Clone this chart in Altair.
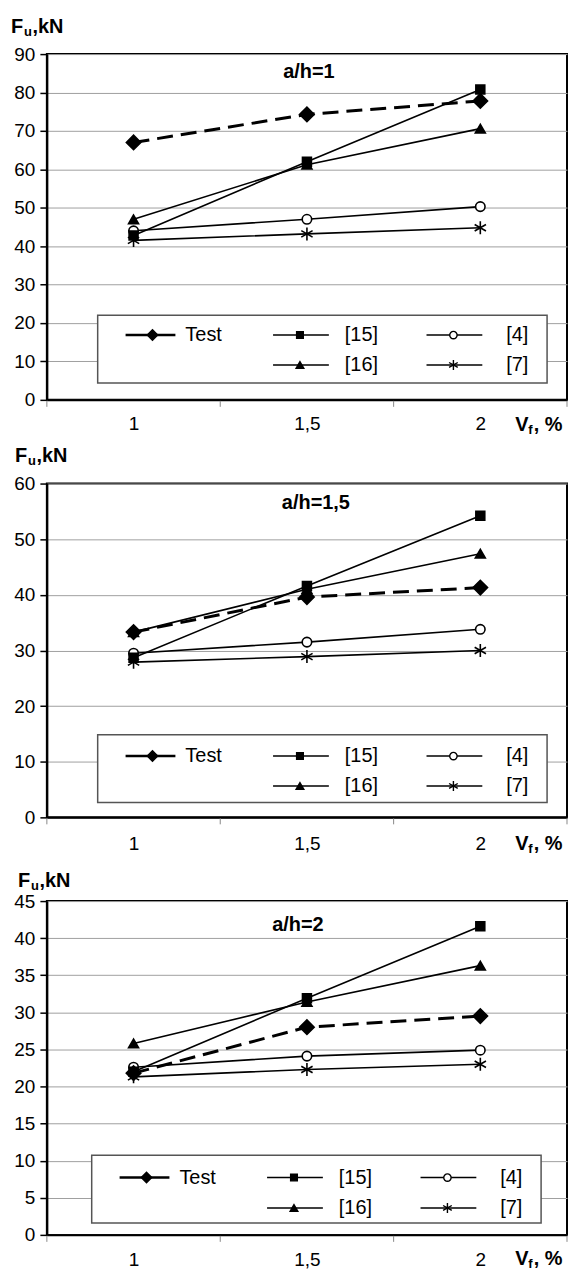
import altair as alt
import pandas as pd

FONT = "Liberation Sans"

# ---------------- data ----------------
VF = [1, 1.5, 2]
BOUNDS = [0.75, 1.25, 1.75, 2.25]
SERIES = ["Test", "[15]", "[16]", "[4]", "[7]"]

# a/h = 1
P1_TEST = [67.0, 74.3, 77.8]
P1_R15 = [42.8, 62.0, 80.8]
P1_R16 = [47.0, 61.2, 70.6]
P1_R4 = [44.0, 47.0, 50.3]
P1_R7 = [41.5, 43.2, 44.8]

# a/h = 1,5
P2_TEST = [33.3, 39.6, 41.3]
P2_R15 = [28.7, 41.6, 54.2]
P2_R16 = [33.3, 41.0, 47.4]
P2_R4 = [29.5, 31.5, 33.8]
P2_R7 = [27.9, 28.9, 30.0]

# a/h = 2
P3_TEST = [21.8, 28.0, 29.5]
P3_R15 = [22.0, 31.9, 41.6]
P3_R16 = [25.8, 31.4, 36.3]
P3_R4 = [22.6, 24.1, 24.9]
P3_R7 = [21.3, 22.3, 23.0]

Y_TICKS_1 = [0, 10, 20, 30, 40, 50, 60, 70, 80, 90]
Y_TICKS_2 = [0, 10, 20, 30, 40, 50, 60]
Y_TICKS_3 = [0, 5, 10, 15, 20, 25, 30, 35, 40, 45]

TITLES = ["a/h=1", "a/h=1,5", "a/h=2"]

# ---------------- styles ----------------
ASTERISK = "M0,-1L0,1M-0.87,-0.5L0.87,0.5M-0.87,0.5L0.87,-0.5"
SHAPES = {"Test": "diamond", "[15]": "square", "[16]": "triangle-up",
          "[4]": "circle", "[7]": ASTERISK}
FILLS = {"Test": "black", "[15]": "black", "[16]": "black",
         "[4]": "white", "[7]": "black"}
SIZES = {"Test": 210, "[15]": 80, "[16]": 100, "[4]": 90, "[7]": 170}
LEG_SIZES = {"Test": 110, "[15]": 45, "[16]": 60, "[4]": 55, "[7]": 100}

PANELS = [
    dict(series=[P1_TEST, P1_R15, P1_R16, P1_R4, P1_R7], yticks=Y_TICKS_1,
         W=522, H=347, title=TITLES[0], tx=263, ty=18,
         fx=-36, fy=-21, xpad=15, vx=470, vy=31,
         lx=51, ly=262, rows=(20, 50)),
    dict(series=[P2_TEST, P2_R15, P2_R16, P2_R4, P2_R7], yticks=Y_TICKS_2,
         W=522, H=335, title=TITLES[1], tx=270, ty=20,
         fx=-32, fy=-22, xpad=17, vx=470, vy=33,
         lx=51, ly=252, rows=(21.5, 51.5)),
    dict(series=[P3_TEST, P3_R15, P3_R16, P3_R4, P3_R7], yticks=Y_TICKS_3,
         W=522, H=335, title=TITLES[2], tx=252, ty=24,
         fx=-29, fy=-14, xpad=16, vx=470, vy=30,
         lx=45, ly=255, rows=(22.5, 53)),
]

# legend layout: (column, row) and offsets inside the box
LEG_POS = {"Test": (0, 0), "[15]": (1, 0), "[4]": (2, 0), "[16]": (1, 1), "[7]": (2, 1)}
LEG_COLS = [(28, 55, 78, 88), (176, 203, 232, 248), (330, 357, 386, 410)]
LEG_W, LEG_H = 451, 68


def txt(text, x, y, size=20, bold=True, align="left", baseline="alphabetic"):
    return alt.Chart(pd.DataFrame({"t": [text]})).mark_text(
        font=FONT, fontSize=size, fontWeight="bold" if bold else "normal",
        align=align, baseline=baseline, color="black"
    ).encode(text="t:N", x=alt.value(x), y=alt.value(y))


def panel(p):
    W, H = p["W"], p["H"]
    rows = []
    for name, vals in zip(SERIES, p["series"]):
        for v, val in zip(VF, vals):
            rows.append({"vf": v, "value": val, "series": name})
    df = pd.DataFrame(rows)
    ymax = p["yticks"][-1]

    xsc = alt.Scale(domain=[BOUNDS[0], BOUNDS[-1]], nice=False, zero=False)
    ysc = alt.Scale(domain=[0, ymax], nice=False)
    xax = alt.Axis(values=VF, format=".1~f", labelExpr="replace(datum.label, '.', ',')",
                   ticks=False, grid=False, domainColor="black", domainWidth=2,
                   labelFont=FONT, labelFontSize=19, labelColor="black",
                   labelPadding=p["xpad"], title=None)
    yax = alt.Axis(values=p["yticks"], grid=True, gridColor="#a0a0a0", gridWidth=1,
                   domainColor="black", domainWidth=2, tickColor="black", tickSize=7,
                   tickWidth=1.5, labelFont=FONT, labelFontSize=19, labelColor="black",
                   labelPadding=5, title=None)
    X = alt.X("vf:Q", scale=xsc, axis=xax)
    Y = alt.Y("value:Q", scale=ysc, axis=yax)

    base = alt.Chart(df)
    layers = []
    for name in SERIES:
        if name == "Test":
            continue
        layers.append(base.transform_filter(alt.datum.series == name)
                      .mark_line(color="black", strokeWidth=1.6)
                      .encode(x=X, y=Y))
    layers.append(base.transform_filter(alt.datum.series == "Test")
                  .mark_line(color="black", strokeWidth=3, strokeDash=[16, 8])
                  .encode(x=X, y=Y))
    for name in ["[7]", "[4]", "[16]", "[15]", "Test"]:
        layers.append(base.transform_filter(alt.datum.series == name)
                      .mark_point(shape=SHAPES[name], size=SIZES[name], fill=FILLS[name],
                                  stroke="black", strokeWidth=1.6, opacity=1, filled=True)
                      .encode(x=X, y=Y))
    layers.append(alt.Chart(pd.DataFrame({"vf": BOUNDS})).mark_rule(color="#888888", strokeWidth=1)
                  .encode(x=X, y=alt.value(H + 1), y2=alt.value(H + 7)))

    layers.append(txt(p["title"], p["tx"], p["ty"], size=20, align="center", baseline="middle"))
    fx, fy = p["fx"], p["fy"]
    layers.append(txt("F", fx, fy, size=20))
    layers.append(txt("u", fx + 13, fy + 3, size=13))
    layers.append(txt(",kN", fx + 21.5, fy, size=20))
    vx, vy = p["vx"], H + p["vy"]
    layers.append(txt("V", vx, vy, size=20))
    layers.append(txt("f", vx + 13, vy + 3, size=13))
    layers.append(txt(", %", vx + 18.5, vy, size=20))

    lx, ly = p["lx"], p["ly"]
    layers.append(alt.Chart(pd.DataFrame({"a": [0]})).mark_rect(
        fill="white", stroke="#555555", strokeWidth=1.5)
        .encode(x=alt.value(lx), x2=alt.value(lx + LEG_W),
                y=alt.value(ly), y2=alt.value(ly + LEG_H)))
    for name in SERIES:
        c, r = LEG_POS[name]
        x0, xm, x1, xt = LEG_COLS[c]
        yy = ly + p["rows"][r]
        one = alt.Chart(pd.DataFrame({"label": [name]}))
        layers.append(one.mark_rule(color="black", strokeWidth=2.5 if name == "Test" else 1.5)
                      .encode(x=alt.value(lx + x0), x2=alt.value(lx + x1), y=alt.value(yy)))
        layers.append(one.mark_point(shape=SHAPES[name], size=LEG_SIZES[name], fill=FILLS[name],
                                     stroke="black", strokeWidth=1.4, opacity=1, filled=True)
                      .encode(x=alt.value(lx + xm), y=alt.value(yy)))
        layers.append(one.mark_text(font=FONT, fontSize=20, align="left", baseline="middle",
                                    color="black")
                      .encode(text="label:N", x=alt.value(lx + xt), y=alt.value(yy)))

    return alt.layer(*layers).properties(width=W, height=H)


chart = alt.vconcat(*[panel(p) for p in PANELS], spacing=84, bounds="flush").properties(
    padding={"left": 2, "top": 6, "right": 0, "bottom": -3}
).configure_view(stroke="black", strokeWidth=2, fill="white")

chart.save("out.html", embed_options={"renderer": "svg", "actions": False})
